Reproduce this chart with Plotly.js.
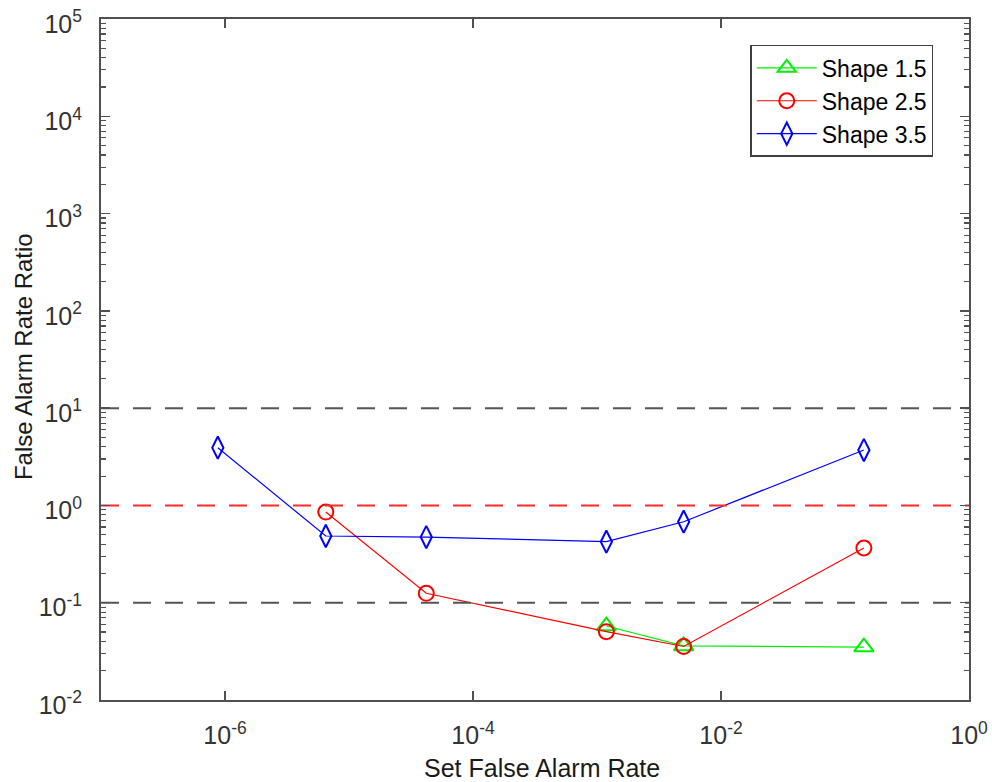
<!DOCTYPE html>
<html>
<head>
<meta charset="utf-8">
<script src="https://cdn.plot.ly/plotly-3.0.1.min.js"></script>
<style>
  html, body { margin: 0; padding: 0; background: #ffffff; }
  #chart { width: 992px; height: 782px; }
</style>
</head>
<body>
<div id="chart"></div>
<script>
// Set false alarm rates (x) and resulting false alarm rate ratios (y)
const shape15X = [1.19e-3, 5.0e-3, 0.142];
const shape15Y = [0.0576, 0.0360, 0.0350];

const shape25X = [6.5e-6, 4.2e-5, 1.19e-3, 5.0e-3, 0.142];
const shape25Y = [0.855, 0.125, 0.0504, 0.0355, 0.365];

const shape35X = [8.75e-7, 6.5e-6, 4.2e-5, 1.19e-3, 5.0e-3, 0.142];
const shape35Y = [3.92, 0.485, 0.473, 0.424, 0.68, 3.71];

// Reference levels drawn as dashed horizontal lines
const refSpanX = [1e-7, 1];
const boundLevels = [10, 0.1];
const unityLevel = 1;

const xTickVals = [1e-6, 1e-4, 1e-2, 1e0];
const xTickText = ['10<sup>-6</sup>', '10<sup>-4</sup>', '10<sup>-2</sup>', '10<sup>0</sup>'];
const yDecades = [-2, -1, 0, 1, 2, 3, 4, 5];
const yMajorVals = yDecades.map(e => Math.pow(10, e));

// y ticks: every decade is labelled, the 2..9 steps in between get a bare tick
const yTickVals = [];
const yTickText = [];
yDecades.forEach(e => {
  yTickVals.push(Math.pow(10, e));
  yTickText.push('10<sup>' + e + '</sup>');
  if (e < 5) {
    for (let m = 2; m <= 9; m++) { yTickVals.push(m * Math.pow(10, e)); yTickText.push(''); }
  }
});

const dashPattern = '18px,14px';
const traces = [];

// Reference lines live on y2 (same log range as y), which draws the longer decade ticks
boundLevels.forEach(v => {
  traces.push({
    x: refSpanX, y: [v, v], yaxis: 'y2', mode: 'lines', showlegend: false, hoverinfo: 'skip',
    line: { color: '#555555', width: 2, dash: dashPattern }
  });
});
traces.push({
  x: refSpanX, y: [unityLevel, unityLevel], yaxis: 'y2', mode: 'lines', showlegend: false, hoverinfo: 'skip',
  line: { color: '#ff2a2a', width: 2, dash: dashPattern }
});

traces.push({
  x: shape15X, y: shape15Y, name: 'Shape 1.5', legendgroup: 'a', mode: 'lines+markers',
  line: { color: '#00ee00', width: 1.2 },
  marker: { symbol: 'triangle-up-open', size: 17, color: '#00ee00', line: { width: 2, color: '#00ee00' } }
});
traces.push({
  x: shape25X, y: shape25Y, name: 'Shape 2.5', legendgroup: 'b', mode: 'lines+markers',
  line: { color: '#ff0000', width: 1.2 },
  marker: { symbol: 'circle-open', size: 15, color: '#ff0000', line: { width: 2, color: '#ff0000' } }
});
traces.push({
  x: shape35X, y: shape35Y, name: 'Shape 3.5', legendgroup: 'c', mode: 'lines+markers',
  line: { color: '#0000ff', width: 1.2 },
  marker: { symbol: 'diamond-tall-open', size: 16, color: '#0000ff', line: { width: 2, color: '#0000ff' } }
});

const axisColor = '#505050';
const textFont = 'Arial, "Liberation Sans", sans-serif';
const layout = {
  width: 992, height: 782,
  margin: { l: 101, r: 23, t: 19, b: 82 },
  paper_bgcolor: '#ffffff', plot_bgcolor: '#ffffff',
  font: { family: textFont, color: '#262626' },
  showlegend: true,
  legend: {
    x: 0.748, y: 0.962, xanchor: 'left', yanchor: 'top',
    bgcolor: '#ffffff', bordercolor: '#404040', borderwidth: 1.5,
    font: { family: textFont, size: 23, color: '#000000' },
    itemwidth: 60, traceorder: 'grouped', tracegroupgap: 0
  },
  xaxis: {
    type: 'log', range: [-7, 0],
    tickvals: xTickVals, ticktext: xTickText,
    ticks: 'inside', ticklen: 9, tickwidth: 1.5, tickcolor: axisColor,
    showline: true, linecolor: axisColor, linewidth: 2, mirror: 'ticks',
    showgrid: false, zeroline: false,
    tickfont: { family: textFont, size: 25, color: '#333333' },
    ticklabelstandoff: 12
  },
  yaxis: {
    type: 'log', range: [-2, 5],
    tickvals: yTickVals, ticktext: yTickText,
    ticks: 'inside', ticklen: 5, tickwidth: 1.2, tickcolor: axisColor,
    showline: true, linecolor: axisColor, linewidth: 2, mirror: 'ticks',
    showgrid: false, zeroline: false,
    tickfont: { family: textFont, size: 25, color: '#333333' },
    ticklabelstandoff: 12, ticklabelshift: 5
  },
  yaxis2: {
    type: 'log', range: [-2, 5], overlaying: 'y', side: 'left', anchor: 'x',
    tickvals: yMajorVals, showticklabels: false,
    ticks: 'inside', ticklen: 9, tickwidth: 1.5, tickcolor: axisColor,
    showline: false, mirror: 'ticks', showgrid: false, zeroline: false
  },
  annotations: [
    {
      text: 'Set False Alarm Rate', xref: 'paper', yref: 'paper',
      x: 0.508, y: -0.0999, xanchor: 'center', yanchor: 'middle', showarrow: false,
      font: { family: textFont, size: 25, color: '#1a1a1a' }
    },
    {
      text: 'False Alarm Rate Ratio', xref: 'paper', yref: 'paper', textangle: -90,
      x: -0.0899, y: 0.505, xanchor: 'center', yanchor: 'middle', showarrow: false,
      font: { family: textFont, size: 24, color: '#1a1a1a' }
    }
  ]
};

Plotly.newPlot('chart', traces, layout, { displayModeBar: false, staticPlot: true });
</script>
</body>
</html>
